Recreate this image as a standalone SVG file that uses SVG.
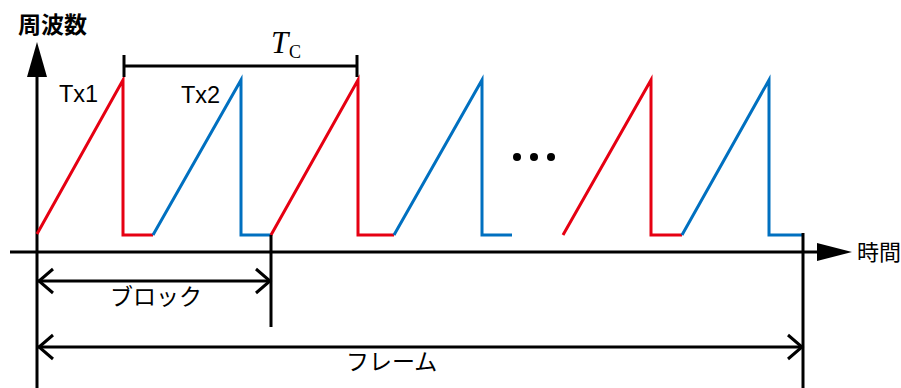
<svg xmlns="http://www.w3.org/2000/svg" width="901" height="388" viewBox="0 0 901 388">
<style>
.ax{stroke:#000;stroke-width:3;fill:none}
.red{stroke:#E60012;stroke-width:3;fill:none;stroke-linejoin:miter}
.blue{stroke:#0070C0;stroke-width:3;fill:none;stroke-linejoin:miter}
.jp{font-family:"Noto Sans CJK JP","Noto Sans",sans-serif;fill:#000}
.lat{font-family:"Liberation Sans",Arial,sans-serif;fill:#000}
</style>
<rect width="901" height="388" fill="#fff"/>
<g id="axes">
<line class="ax" x1="37" y1="76" x2="37" y2="388"/>
<polygon points="37,42 27,77 47,77" fill="#000"/>
<line class="ax" x1="10" y1="252" x2="818" y2="252"/>
<polygon points="852,252 817,243 817,261" fill="#000"/>
<text class="jp" x="18" y="33" font-size="23" font-weight="bold">周波数</text>
<text class="jp" x="857" y="260" font-size="22">時間</text>
</g>
<g id="chirps">
<polyline class="red" points="37,234 123,80 123,235 153,235"/>
<polyline class="blue" points="153,235 241,80 241,235 271,235"/>
<polyline class="red" points="271,235 358,80 358,235 394,235"/>
<polyline class="blue" points="394,235 482,80 482,235 512,235"/>
<polyline class="red" points="563,235 651,80 651,235 682,235"/>
<polyline class="blue" points="682,235 769,80 769,235 803,235"/>
</g>
<g id="labels">
<text class="lat" x="59" y="102" font-size="23.5">Tx1</text>
<text class="lat" x="181" y="103" font-size="23.5">Tx2</text>
<circle cx="517" cy="157" r="4"/>
<circle cx="534" cy="157" r="4"/>
<circle cx="551" cy="157" r="4"/>
</g>
<g id="tc">
<line class="ax" x1="123" y1="66" x2="357" y2="66"/>
<line class="ax" x1="124" y1="55" x2="124" y2="77"/>
<line class="ax" x1="357" y1="55" x2="357" y2="77"/>
<text x="271" y="53" font-family="'Liberation Serif','Times New Roman',serif" font-style="italic" font-size="31">T</text>
<text x="289" y="58" font-family="'Liberation Serif','Times New Roman',serif" font-size="18">C</text>
</g>
<g id="block">
<line class="ax" x1="271" y1="235" x2="271" y2="327"/>
<line class="ax" x1="38" y1="281" x2="270" y2="281"/>
<polyline class="ax" points="53,269 39,281 53,293"/>
<polyline class="ax" points="256,269 270,281 256,293"/>
<text class="jp" x="110" y="305" font-size="23">ブロック</text>
</g>
<g id="frame">
<line class="ax" x1="803" y1="233" x2="803" y2="388"/>
<line class="ax" x1="38" y1="347" x2="802" y2="347"/>
<polyline class="ax" points="53,335 39,347 53,359"/>
<polyline class="ax" points="788,335 802,347 788,359"/>
<text class="jp" x="346" y="370" font-size="23">フレーム</text>
</g>
</svg>
